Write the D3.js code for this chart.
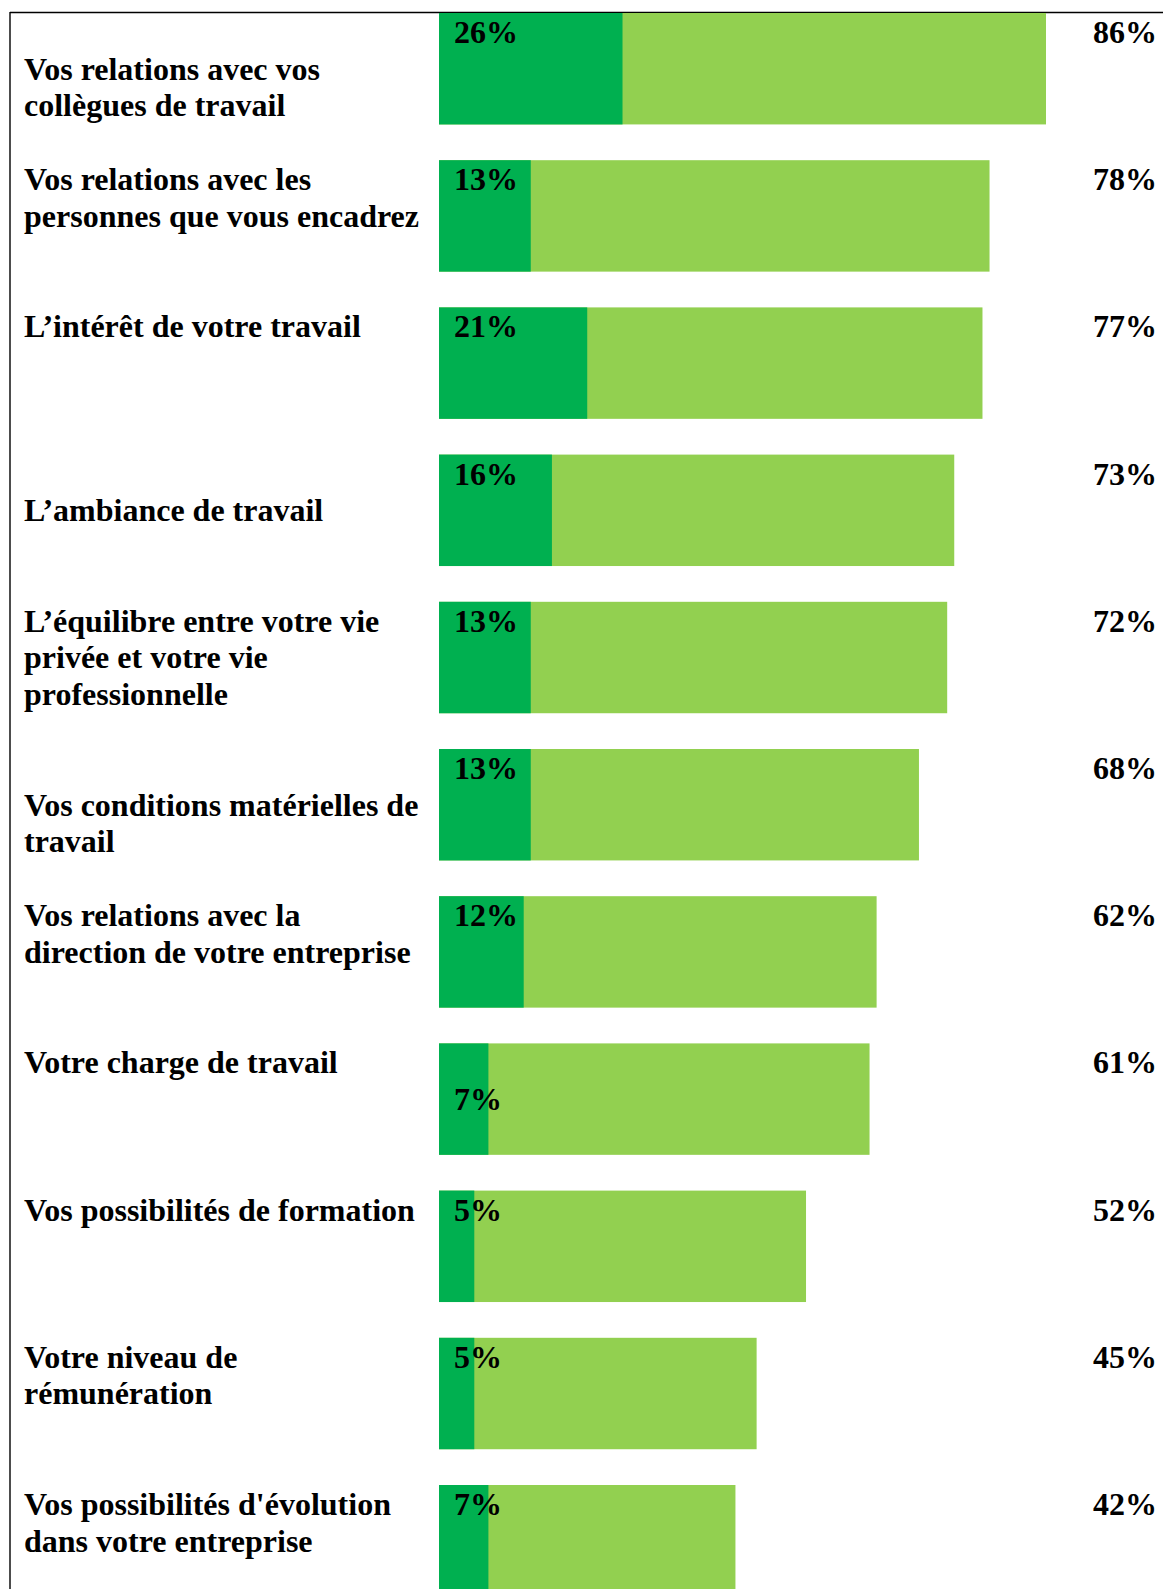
<!DOCTYPE html>
<html>
<head>
<meta charset="utf-8">
<script src="https://cdn.jsdelivr.net/npm/d3@7"></script>
<style>
  html, body { margin: 0; padding: 0; background: #fff; }
  svg { display: block; }
</style>
</head>
<body>
<div id="chart"></div>
<script>
// Satisfaction items (each label split into its printed lines; an empty
// first line leaves a blank line above the text, as in the source table)
const labels = [
  ["", "Vos relations avec vos", "collègues de travail"],
  ["Vos relations avec les", "personnes que vous encadrez"],
  ["L\u2019intérêt de votre travail"],
  ["", "L\u2019ambiance de travail"],
  ["L\u2019équilibre entre votre vie", "privée et  votre vie", "professionnelle"],
  ["", "Vos conditions matérielles de", "travail"],
  ["Vos relations avec la", "direction de votre entreprise"],
  ["Votre charge de travail"],
  ["Vos possibilités de formation"],
  ["Votre niveau de", "rémunération"],
  ["Vos possibilités d'évolution", "dans votre entreprise"]
];

// "Très satisfait" share (dark segment), in %
const tresSatisfait = [26, 13, 21, 16, 13, 13, 12, 7, 5, 5, 7];

// Total satisfied share (full bar), in %
const totalSatisfait = [86, 78, 77, 73, 72, 68, 62, 61, 52, 45, 42];

const W = 1163, H = 1589;
const darkGreen = "#00B050", lightGreen = "#92D050";
const font = "'Liberation Serif', 'Times New Roman', serif";
const fontSize = 32;
const lineH = 36.5;
const firstBaseline = 30;

const rows = d3.range(labels.length);

const svg = d3.select("#chart").append("svg")
  .attr("width", W).attr("height", H);

const y = d3.scaleBand()
  .domain(rows)
  .range([13, 13 + 147.2 * (rows.length - 0.243)])
  .paddingInner(0.243)
  .paddingOuter(0);

const x = d3.scaleLinear()
  .domain([0, d3.max(totalSatisfait)])
  .range([439, 1046]);

// Frame lines (top and left)
svg.append("line")
  .attr("x1", 10).attr("x2", W).attr("y1", 12.5).attr("y2", 12.5)
  .attr("stroke", "#000").attr("stroke-width", 1.4);
svg.append("line")
  .attr("x1", 10).attr("x2", 10).attr("y1", 12).attr("y2", H)
  .attr("stroke", "#000").attr("stroke-width", 1.4);

const row = svg.selectAll("g.row").data(rows).join("g")
  .attr("class", "row")
  .attr("transform", i => `translate(0,${y(i)})`);

// Full bar: total satisfied
row.append("rect")
  .attr("x", x(0))
  .attr("width", i => x(totalSatisfait[i]) - x(0))
  .attr("height", y.bandwidth())
  .attr("fill", lightGreen);

// Dark segment: very satisfied
row.append("rect")
  .attr("x", x(0))
  .attr("width", i => x(tresSatisfait[i]) - x(0))
  .attr("height", y.bandwidth())
  .attr("fill", darkGreen);

const textStyle = sel => sel
  .attr("font-family", font)
  .attr("font-weight", "bold")
  .attr("font-size", fontSize)
  .attr("fill", "#000");

// Item labels
row.append("text")
  .call(textStyle)
  .attr("x", 24)
  .attr("y", firstBaseline)
  .selectAll("tspan")
  .data(i => labels[i].map((t, k) => ({ t, k })))
  .join("tspan")
  .attr("x", 24)
  .attr("y", d => firstBaseline + d.k * lineH)
  .text(d => d.t);

// Value of the dark segment, written inside the bar
// (the workload row carries it on the second line)
const dropped = new Set([7]);
row.append("text")
  .call(textStyle)
  .attr("x", 454)
  .attr("y", i => firstBaseline + (dropped.has(i) ? lineH : 0))
  .text(i => tresSatisfait[i] + "%");

// Total value, right-aligned in the last column
row.append("text")
  .call(textStyle)
  .attr("x", 1157)
  .attr("y", firstBaseline)
  .attr("text-anchor", "end")
  .text(i => totalSatisfait[i] + "%");
</script>
</body>
</html>
